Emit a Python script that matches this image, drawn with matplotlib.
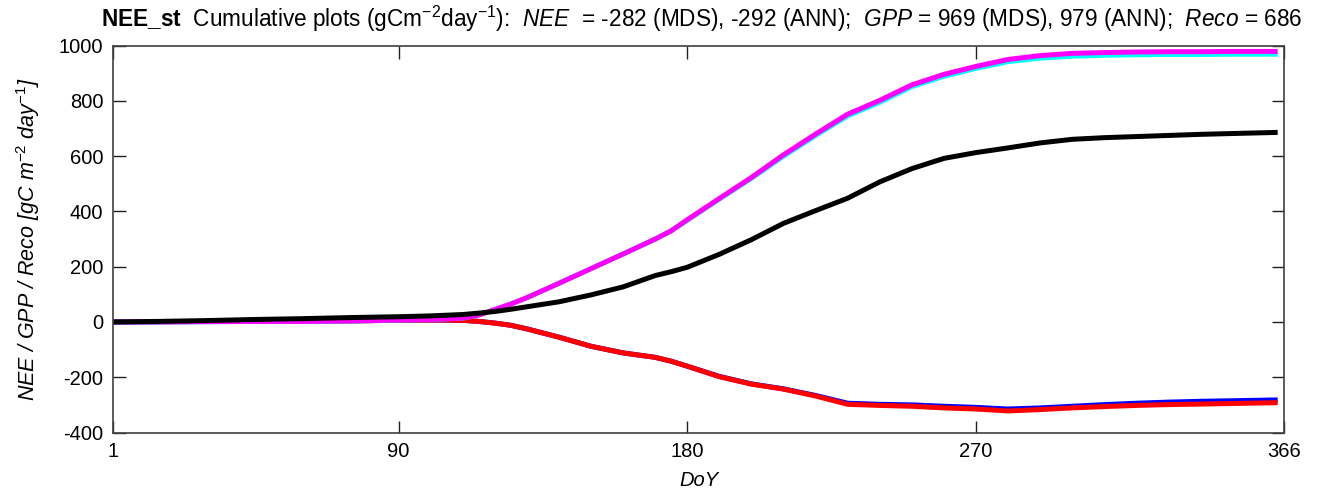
import matplotlib
matplotlib.use("Agg")
import matplotlib.pyplot as plt
from matplotlib import font_manager

# Pick a narrow Helvetica-like face if available
names = {f.name for f in font_manager.fontManager.ttflist}
base = "Liberation Sans Narrow" if "Liberation Sans Narrow" in names else "Liberation Sans"

plt.rcParams.update({
    "font.family": [base, "DejaVu Sans"],
    "mathtext.fontset": "custom",
    "mathtext.rm": base,
    "mathtext.it": base + ":italic",
    "mathtext.bf": base + ":bold",
    "axes.linewidth": 1.0,
})

# Day of year at which cumulative sums were sampled
doy = [1, 15, 30, 45, 60, 75, 90, 100, 110, 115, 120, 125, 130, 140, 150, 160,
       170, 175, 180, 190, 200, 210, 220, 230, 240, 250, 260, 270, 280, 290,
       300, 310, 320, 330, 340, 350, 364]

# Cumulative NEE (gC m-2)
nee_mds = [0, 1, 2, 2, 3, 4, 6, 7, 6, 2, -4, -12, -25, -55, -88, -112,
           -128, -142, -160, -197, -224, -242, -266, -294, -298, -300, -305, -309,
           -315, -311, -305, -299, -294, -290, -287, -285, -282]
nee_ann = [0, 1, 2, 2, 3, 4, 6, 7, 6, 2, -4, -12, -25, -55, -88, -112,
           -128, -142, -160, -198, -225, -243, -268, -298, -302, -305, -311, -315,
           -322, -317, -311, -306, -302, -299, -297, -295, -292]

# Cumulative GPP (gC m-2)
gpp_mds = [0, 0, 1, 2, 2, 4, 7, 9, 14, 25, 45, 65, 88, 140, 193, 246,
           300, 330, 368, 445, 520, 600, 675, 746, 795, 852, 889, 918,
           942, 955, 962, 965, 967, 968, 968, 969, 969]
gpp_ann = [0, 0, 1, 2, 2, 4, 7, 9, 14, 25, 45, 65, 88, 140, 193, 246,
           300, 330, 370, 447, 523, 605, 680, 752, 802, 858, 896, 925,
           950, 964, 972, 975, 977, 978, 978, 979, 979]

# Cumulative ecosystem respiration (gC m-2)
reco = [0, 2, 5, 9, 12, 16, 19, 22, 27, 32, 38, 46, 55, 73, 98, 127,
        168, 182, 198, 245, 298, 357, 403, 448, 507, 555, 592, 613,
        630, 648, 661, 667, 671, 675, 679, 682, 686]

xticks = [1, 90, 180, 270, 366]
yticks = [-400, -200, 0, 200, 400, 600, 800, 1000]

fig = plt.figure(figsize=(13.17, 4.96), dpi=100)
ax = fig.add_axes([0.0858, 0.128, 0.8892, 0.780])

lw = 3.6
ax.plot(doy, nee_mds, color="#0000ff", lw=lw, solid_capstyle="butt")
ax.plot(doy, nee_ann, color="#ff0000", lw=lw, solid_capstyle="butt")
ax.plot(doy, gpp_mds, color="#00ffff", lw=lw, solid_capstyle="butt")
ax.plot(doy, gpp_ann, color="#ff00ff", lw=lw, solid_capstyle="butt")
ax.plot(doy, reco, color="#000000", lw=lw, solid_capstyle="butt")

ax.set_xlim(1, 366)
ax.set_ylim(-400, 1000)
ax.set_xticks(xticks)
ax.set_xticklabels([str(t) for t in xticks])
ax.set_yticks(yticks)
ax.set_yticklabels([str(t) for t in yticks])

for s in ax.spines.values():
    s.set_color("#404040")
    s.set_linewidth(1.2)

ax.tick_params(direction="in", length=9, width=1.0, color="#202020",
               top=True, right=True, labelsize=14.5, pad=7)

ax.set_xlabel("DoY", fontsize=14.5, fontstyle="italic", labelpad=7)
ax.set_ylabel(r"NEE / GPP / Reco [gC m$^{\mathit{-2}}$ day$^{\mathit{-1}}$]",
              fontsize=15.5, fontstyle="italic", labelpad=12)

fig.text(0.533, 0.962,
         r"$\mathbf{NEE\_st}$  Cumulative plots (gCm$^{-2}$day$^{-1}$):  "
         r"$\mathit{NEE}$  = -282 (MDS), -292 (ANN);  "
         r"$\mathit{GPP}$ = 969 (MDS), 979 (ANN);  "
         r"$\mathit{Reco}$ = 686",
         ha="center", va="center", fontsize=16.3)

fig.savefig("out.png", dpi=100)
